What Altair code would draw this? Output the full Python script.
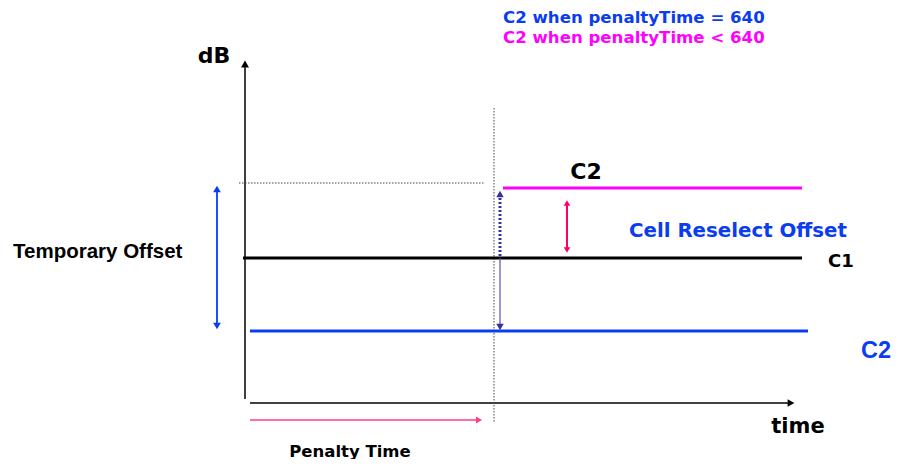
import altair as alt
import pandas as pd

# ---- schematic data in (time, dB) units ----
seg_style = ["axis", "axis", "penalty", "dotted", "dotted", "c2_high", "c1", "c2_low",
             "reselect", "temp_dot", "temp_thin", "temporary"]
seg_t = [245, 250, 250, 494, 239, 503, 243, 250, 567, 500, 500, 217]
seg_t2 = [245, 790, 478, 494, 485, 802, 802, 808, 567, 500, 500, 217]
seg_db = [68, 64, 47, 359, 284, 279, 209, 136, 264, 273, 209, 278]
seg_db2 = [403, 64, 47, 44, 284, 279, 209, 136, 217, 209, 140, 141]

head_t = [245, 791, 479, 567, 567, 500, 500, 217, 217]
head_db = [403, 64, 47, 264, 217, 273, 140, 278, 141]
head_shape = ["triangle-up", "triangle-right", "triangle-right", "triangle-up", "triangle-down",
              "triangle-up", "triangle-down", "triangle-up", "triangle-down"]
head_color = ["#000000", "#000000", "#ff3d8b", "#ff0066", "#ff0066",
              "#333399", "#333399", "#0a3cf0", "#0a3cf0"]
head_size = [64, 60, 50, 44, 44, 56, 56, 60, 60]

txt_label = ["dB", "time", "Penalty Time", "C2", "C1",
             "Cell Reselect Offset", "C2 when penaltyTime = 640", "C2 when penaltyTime < 640",
             "Temporary Offset", "C2"]
txt_t = [214, 798, 350, 586, 828, 629, 503, 503, 13, 861]
txt_db = [404, 34, 10.5, 288, 200, 230, 444, 424, 209, 109]
txt_color = ["#000000", "#000000", "#000000", "#000000", "#000000",
             "#0a3cf0", "#0a3cf0", "#ff00ff", "#000000", "#0a3cf0"]
txt_size = [22, 21, 16.5, 22, 18, 19.8, 16.6, 16.6, 20.5, 23.5]
txt_align = ["center", "center", "center", "center", "left",
             "left", "left", "left", "left", "left"]
txt_font = ["DejaVu Sans", "DejaVu Sans", "DejaVu Sans", "DejaVu Sans", "DejaVu Sans",
            "DejaVu Sans", "DejaVu Sans", "DejaVu Sans", "Liberation Sans", "Liberation Sans"]

segs = pd.DataFrame({"style": seg_style, "t": seg_t, "t2": seg_t2, "db": seg_db, "db2": seg_db2})
heads = pd.DataFrame({"t": head_t, "db": head_db, "shape": head_shape,
                      "color": head_color, "size": head_size})
texts = pd.DataFrame({"label": txt_label, "t": txt_t, "db": txt_db, "color": txt_color,
                      "size": txt_size, "align": txt_align, "font": txt_font})

xs = alt.Scale(domain=[8, 891], nice=False, zero=False)
ys = alt.Scale(domain=[8, 459], nice=False, zero=False)

styles = {
    "axis": dict(color="#000000", strokeWidth=1.5),
    "penalty": dict(color="#ff3d8b", strokeWidth=1.5),
    "dotted": dict(color="#444444", strokeWidth=1, strokeDash=[1.5, 1.5]),
    "c2_high": dict(color="#ff00ff", strokeWidth=3),
    "c1": dict(color="#000000", strokeWidth=3),
    "c2_low": dict(color="#0a3cf0", strokeWidth=3),
    "reselect": dict(color="#ff0066", strokeWidth=2),
    "temp_dot": dict(color="#333399", strokeWidth=3, strokeDash=[2, 2]),
    "temp_thin": dict(color="#5555aa", strokeWidth=1.2),
    "temporary": dict(color="#0a3cf0", strokeWidth=1.8),
}

layers = []
for name, st in styles.items():
    layers.append(
        alt.Chart(segs[segs["style"] == name]).mark_rule(**st).encode(
            x=alt.X("t:Q", scale=xs, axis=None),
            x2="t2:Q",
            y=alt.Y("db:Q", scale=ys, axis=None),
            y2="db2:Q",
        )
    )

layers.append(
    alt.Chart(heads).mark_point(filled=True, opacity=1, strokeWidth=0).encode(
        x=alt.X("t:Q", scale=xs, axis=None),
        y=alt.Y("db:Q", scale=ys, axis=None),
        shape=alt.Shape("shape:N", scale=None),
        color=alt.Color("color:N", scale=None),
        size=alt.Size("size:Q", scale=None),
    )
)

for (font, align), grp in texts.groupby(["font", "align"]):
    layers.append(
        alt.Chart(grp).mark_text(font=font, fontWeight="bold", align=align, baseline="alphabetic").encode(
            x=alt.X("t:Q", scale=xs, axis=None),
            y=alt.Y("db:Q", scale=ys, axis=None),
            text="label:N",
            color=alt.Color("color:N", scale=None),
            size=alt.Size("size:Q", scale=None),
        )
    )

chart = alt.layer(*layers).properties(
    width=883, height=451, padding=0, autosize=alt.AutoSizeParams(type="none"),
    background="white",
).configure_view(stroke=None)

chart.save("out.html", embed_options={"renderer": "svg", "actions": False})
